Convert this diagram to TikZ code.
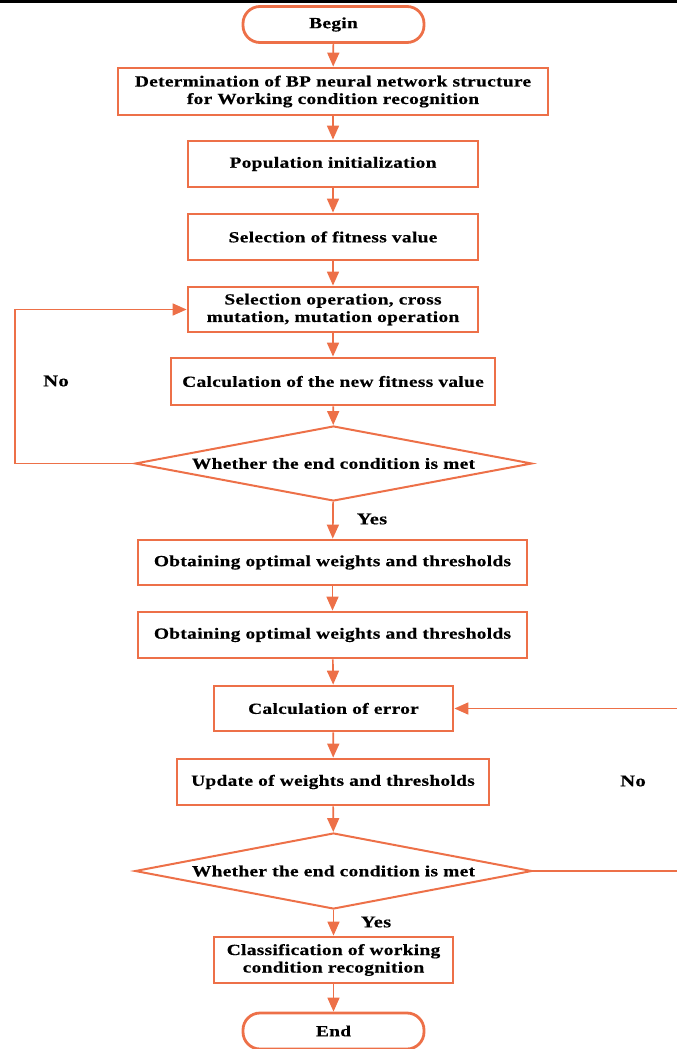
\documentclass[tikz,border=0pt]{standalone}
\usepackage{fontspec}
\usetikzlibrary{arrows.meta,shapes.geometric}
\newfontfamily\ff{Liberation Serif}[FakeStretch=1.25,LetterSpace=2,FakeBold=0.4]
\definecolor{orl}{RGB}{237,112,72}
\begin{document}
\begin{tikzpicture}[x=1pt,y=-1pt,
  txt/.style={font=\ff\bfseries\fontsize{15.5}{17.5}\selectfont, align=center},
  box/.style={txt, draw=orl, line width=2.8pt, fill=white, inner sep=0pt},
  term/.style={txt, draw=orl, line width=2.8pt, rounded corners=17pt, inner sep=0pt,
    minimum width=181pt, minimum height=36pt},
  dia/.style={txt, draw=orl, line width=2pt, diamond, aspect=5.3, inner sep=0pt,
    minimum width=397pt},
  arr/.style={draw=orl, line width=1.7pt, -{Triangle[length=14pt,width=12pt]}},
  lab/.style={font=\ff\bfseries\fontsize{16.5}{19}\selectfont}]
\useasboundingbox (0,0) rectangle (677,1049);
\fill[black] (0,0) rectangle (677,2.6);
\node[term] (begin) at (333.5,24.5) {Begin};
\node[box, minimum width=430pt, minimum height=47pt] (b1) at (333,91.5)
  {Determination of BP neural network structure\\for Working condition recognition};
\node[box, minimum width=290pt, minimum height=46pt] (b2) at (333,164) {Population initialization};
\node[box, minimum width=290pt, minimum height=46pt] (b3) at (333,237) {Selection of fitness value};
\node[box, minimum width=290pt, minimum height=45pt] (b4) at (333,309.5)
  {Selection operation, cross\\mutation, mutation operation};
\node[box, minimum width=324pt, minimum height=47pt] (b5) at (333,381.5) {Calculation of the new fitness value};
\node[dia, minimum height=75pt] (d1) at (333.5,463.5) {Whether the end condition is met};
\node[box, minimum width=389pt, minimum height=45pt] (b6) at (332.5,562.5) {Obtaining optimal weights and thresholds};
\node[box, minimum width=389pt, minimum height=46pt] (b7) at (332.5,635) {Obtaining optimal weights and thresholds};
\node[box, minimum width=239pt, minimum height=45pt] (b8) at (333.5,708.5) {Calculation of error};
\node[box, minimum width=312pt, minimum height=46pt] (b9) at (333,782) {Update of weights and thresholds};
\node[dia, minimum height=76pt] (d2) at (333.5,871) {Whether the end condition is met};
\node[box, minimum width=239pt, minimum height=46pt] (b10) at (333.5,960)
  {Classification of working\\condition recognition};
\node[term] (end) at (333.5,1031) {End};
\node[lab] (no1) at (56,381) {No};
\node[lab] (yes1) at (372,519) {Yes};
\node[lab] (no2) at (633,781) {No};
\node[lab] (yes2) at (376,922) {Yes};
\coordinate (lc) at (15,463.5);
\coordinate (rc) at (680,871);
\draw[arr] (begin) -- (b1);
\draw[arr] (b1) -- (b2);
\draw[arr] (b2) -- (b3);
\draw[arr] (b3) -- (b4);
\draw[arr] (b4) -- (b5);
\draw[arr] (b5) -- (d1);
\draw[arr] (d1) -- (b6);
\draw[arr] (b6) -- (b7);
\draw[arr] (b7) -- (b8);
\draw[arr] (b8) -- (b9);
\draw[arr] (b9) -- (d2);
\draw[arr] (d2) -- (b10);
\draw[arr] (b10) -- (end);
\draw[arr] (d1.west) -- (lc) |- (b4.west);
\draw[arr] (d2.east) -- (rc) |- (b8.east);
\end{tikzpicture}
\end{document}
